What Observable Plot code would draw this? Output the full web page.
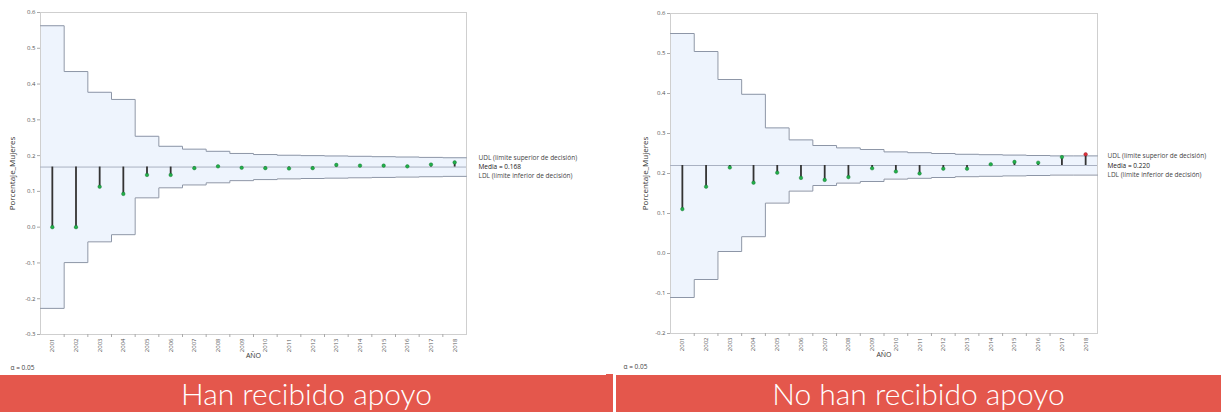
<!DOCTYPE html>
<html>
<head>
<meta charset="utf-8">
<script src="https://cdn.jsdelivr.net/npm/d3@7"></script>
<script src="https://cdn.jsdelivr.net/npm/@observablehq/plot@0.6"></script>
<style>
  html, body { margin: 0; padding: 0; background: #fff; width: 1221px; height: 412px; overflow: hidden; }
  #left, #right { position: absolute; top: 0; }
  #left { left: 0; }
  #right { left: 612px; }
  .banner { position: absolute; top: 375px; height: 37px; background: #e4574c; color: #fff;
            font-family: Lato, "Open Sans", sans-serif; font-weight: 300; font-size: 30px;
            line-height: 37px; text-align: center; white-space: nowrap; overflow: hidden; }
</style>
</head>
<body>
<div id="left"></div>
<div id="right"></div>
<div class="banner" style="left:0;width:613px;">Han recibido apoyo</div>
<div class="banner" style="left:616px;width:605px;">No han recibido apoyo</div>
<div style="position:absolute;left:606px;top:374px;width:7px;height:1px;background:#e4574c;"></div>
<script>
// ---- data ----
const years = [2001, 2002, 2003, 2004, 2005, 2006, 2007, 2008, 2009, 2010, 2011, 2012, 2013, 2014, 2015, 2016, 2017, 2018];

const leftMean = 0.168;
const leftValues = [0.000, 0.000, 0.113, 0.093, 0.146, 0.146, 0.165, 0.170, 0.166, 0.165, 0.164, 0.165, 0.174, 0.172, 0.172, 0.170, 0.175, 0.181];
const leftUpper  = [0.563, 0.435, 0.377, 0.357, 0.254, 0.226, 0.218, 0.212, 0.206, 0.203, 0.201, 0.200, 0.199, 0.198, 0.197, 0.196, 0.195, 0.194];
const leftLower  = [-0.227, -0.099, -0.041, -0.021, 0.082, 0.110, 0.118, 0.124, 0.130, 0.133, 0.135, 0.136, 0.137, 0.138, 0.139, 0.140, 0.141, 0.142];

const rightMean = 0.220;
const rightValues = [0.111, 0.167, 0.215, 0.177, 0.202, 0.189, 0.184, 0.191, 0.213, 0.205, 0.200, 0.212, 0.212, 0.223, 0.229, 0.227, 0.241, 0.248];
const rightUpper  = [0.550, 0.505, 0.435, 0.398, 0.314, 0.284, 0.270, 0.264, 0.260, 0.254, 0.252, 0.250, 0.248, 0.247, 0.246, 0.245, 0.244, 0.244];
const rightLower  = [-0.110, -0.065, 0.005, 0.042, 0.126, 0.156, 0.170, 0.176, 0.180, 0.186, 0.188, 0.190, 0.192, 0.193, 0.194, 0.195, 0.196, 0.196];

const leftTicks = [-0.3, -0.2, -0.1, 0.0, 0.1, 0.2, 0.3, 0.4, 0.5, 0.6];
const rightTicks = [-0.2, -0.1, 0.0, 0.1, 0.2, 0.3, 0.4, 0.5, 0.6];

const yLabel = "Porcentaje_Mujeres";
const xLabel = "AÑO";
const udlText = "UDL (límite superior de decisión)";
const ldlText = "LDL (límite inferior de decisión)";
const alphaText = "α = 0.05";

const FONT = '"Open Sans", "Noto Sans", sans-serif';

function anomChart({values, upper, lower, mean, ticks, yDomain, width, marginLeft, marginRight, marginTop, marginBottom, labelDx, yLabelDx, alphaDx}) {
  const pts = years.map((yr, i) => ({
    year: yr, value: values[i], upper: upper[i], lower: lower[i],
    out: values[i] > upper[i] || values[i] < lower[i]
  }));
  const steps = years.map((yr, i) => ({x: yr - 0.5, hi: upper[i], lo: lower[i]}));
  steps.push({x: years[years.length - 1] + 0.5, hi: upper[upper.length - 1], lo: lower[lower.length - 1]});
  const edges = years.slice(0, -1).map(y => y + 0.5);
  const last = years[years.length - 1];
  return Plot.plot({
    width, height: 372,
    marginLeft, marginRight, marginTop, marginBottom,
    style: {fontFamily: FONT, background: "transparent", overflow: "visible"},
    x: {domain: [years[0] - 0.5, last + 0.5]},
    y: {domain: yDomain},
    marks: [
      Plot.areaY(steps, {x: "x", y1: "lo", y2: "hi", curve: "step-after", fill: "#eef4fd"}),
      Plot.frame({stroke: "#cfcfcf"}),
      Plot.line(steps, {x: "x", y: "hi", curve: "step-after", stroke: "#8d96a7", strokeWidth: 1}),
      Plot.line(steps, {x: "x", y: "lo", curve: "step-after", stroke: "#8d96a7", strokeWidth: 1}),
      Plot.ruleY([mean], {stroke: "#a9b1c2", strokeWidth: 1}),
      Plot.ruleX(pts, {x: "year", y1: () => mean, y2: "value", stroke: "#333", strokeWidth: 1.8}),
      Plot.dot(pts, {x: "year", y: "value", r: 1.8, fill: d => d.out ? "#e0303a" : "#22b04a", stroke: d => d.out ? "#8a1a20" : "#0c6a28", strokeWidth: 0.4}),
      Plot.axisY(ticks, {tickFormat: d => d.toFixed(1), tickSize: 3, tickPadding: 2, fontSize: 6, stroke: "#aaa", fill: "#555", label: null}),
      Plot.text([yLabel], {frameAnchor: "left", textAnchor: "middle", dx: yLabelDx, rotate: -90, fontSize: 8, fill: "#333"}),
      Plot.axisX(edges, {tickFormat: () => "", tickSize: 3, stroke: "#aaa", label: null}),
      Plot.axisX(years, {tickFormat: d => String(d), tickRotate: -90, tickSize: 0, tickPadding: 4, fontSize: 6, fill: "#555", label: null}),
      Plot.text([xLabel], {frameAnchor: "bottom", textAnchor: "middle", dy: 23, fontSize: 7, fill: "#333"}),
      Plot.text([
        {y: upper[upper.length - 1], t: udlText, c: "#444"},
        {y: mean, t: "Media = " + mean.toFixed(3), c: "#222"},
        {y: lower[lower.length - 1], t: ldlText, c: "#444"}
      ], {x: () => last + 0.5, y: "y", text: "t", fill: "c", dx: labelDx, textAnchor: "start", fontSize: 6.5}),
      Plot.text([alphaText], {frameAnchor: "bottom-left", dx: alphaDx, dy: 35, textAnchor: "start", fontSize: 6.5, fill: "#444"})
    ]
  });
}

document.getElementById("left").append(anomChart({
  values: leftValues, upper: leftUpper, lower: leftLower, mean: leftMean,
  ticks: leftTicks, yDomain: [-0.3, 0.6], width: 610,
  marginLeft: 40, marginRight: 144, marginTop: 12, marginBottom: 38,
  labelDx: 12, yLabelDx: -28, alphaDx: -30
}));
document.getElementById("right").append(anomChart({
  values: rightValues, upper: rightUpper, lower: rightLower, mean: rightMean,
  ticks: rightTicks, yDomain: [-0.2, 0.6], width: 609,
  marginLeft: 58, marginRight: 124, marginTop: 13, marginBottom: 39,
  labelDx: 10, yLabelDx: -25, alphaDx: -47
}));
</script>
</body>
</html>
